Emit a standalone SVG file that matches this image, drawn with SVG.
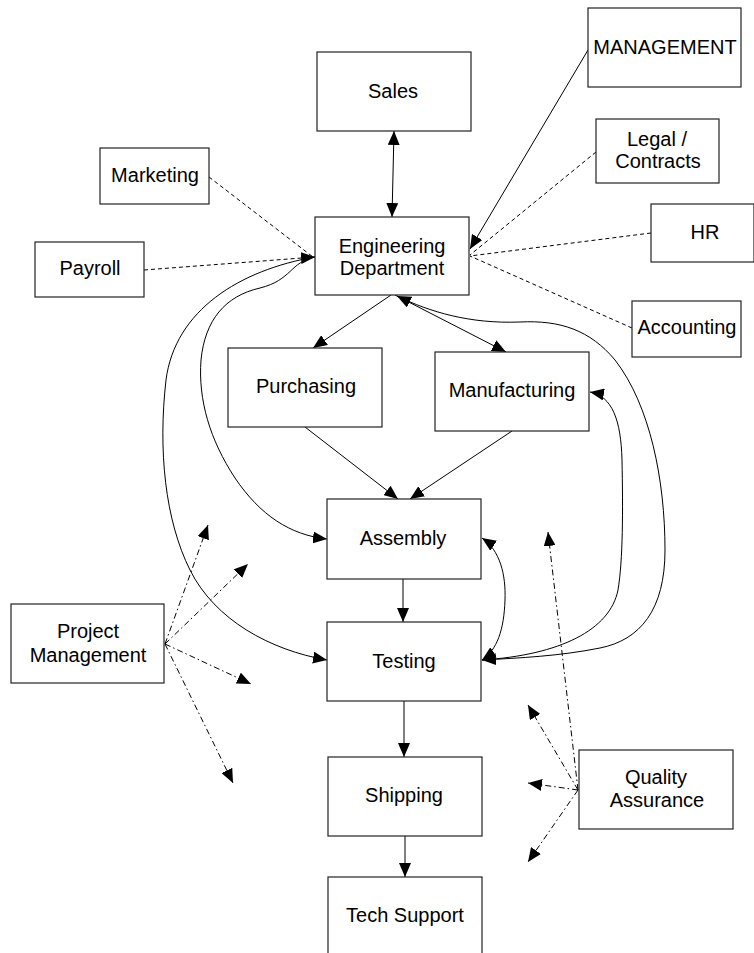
<svg xmlns="http://www.w3.org/2000/svg" width="754" height="953" viewBox="0 0 754 953">
<style>
.box{fill:#fff;stroke:#222;stroke-width:1.2}
.t{font-family:"Liberation Sans",Arial,sans-serif;font-size:20px;fill:#000;text-anchor:middle}
.c{fill:none;stroke:#000;stroke-width:1}
.d{stroke-dasharray:4 3}
.dd{stroke-dasharray:6 3 1.5 3}
</style>
<defs>
<marker id="ah" viewBox="0 0 14 12" refX="14" refY="6" markerWidth="14" markerHeight="12" markerUnits="userSpaceOnUse" orient="auto-start-reverse">
<path d="M0,0 L14,6 L0,12 z" fill="#000"/>
</marker>
</defs>
<g id="connectors">
<path class="c" d="M394 131 L392 217" marker-start="url(#ah)" marker-end="url(#ah)"/>
<path class="c" d="M588 50 L470 249" marker-end="url(#ah)"/>
<path class="c d" d="M596 152 L470 255"/>
<path class="c d" d="M651 233 L470 256"/>
<path class="c d" d="M632 328 L470 256"/>
<path class="c d" d="M209 177 L313 257"/>
<path class="c d" d="M144 270 L315 257" marker-end="url(#ah)"/>
<path class="c" d="M315 257 C240 270 175 310 166 380 C158 450 165 520 190 570 C215 620 270 650 327 660" marker-end="url(#ah)"/>
<path class="c" d="M315 257 C290 262 292 280 260 288 C225 296 205 320 201 360 C198 400 210 440 235 478 C260 515 290 535 327 539" marker-end="url(#ah)"/>
<path class="c" d="M391 295 L313 348" marker-end="url(#ah)"/>
<path class="c" d="M395 295 L506 352" marker-end="url(#ah)"/>
<path class="c" d="M482 660 C520 658 560 656 600 648 C640 640 665 610 665 550 C665 480 650 405 615 360 C590 330 560 320 520 322 C470 324 430 312 397 296" marker-end="url(#ah)"/>
<path class="c" d="M482 660 C560 655 610 630 618 590 C623 560 623 510 622 460 C621 420 612 396 590 392" marker-start="url(#ah)" marker-end="url(#ah)"/>
<path class="c" d="M482 660 C497 650 504 630 505 600 C506 575 500 550 482 538" marker-start="url(#ah)" marker-end="url(#ah)"/>
<path class="c" d="M305 427 L398 499" marker-end="url(#ah)"/>
<path class="c" d="M512 431 L410 499" marker-end="url(#ah)"/>
<path class="c" d="M403 579 L403 622" marker-end="url(#ah)"/>
<path class="c" d="M404 701 L404 757" marker-end="url(#ah)"/>
<path class="c" d="M405 836 L405 877" marker-end="url(#ah)"/>
<path class="c dd" d="M165 644 L208 525" marker-end="url(#ah)"/>
<path class="c dd" d="M165 644 L248 564" marker-end="url(#ah)"/>
<path class="c dd" d="M165 644 L251 684" marker-end="url(#ah)"/>
<path class="c dd" d="M165 644 L233 783" marker-end="url(#ah)"/>
<path class="c dd" d="M578 790 L548 532" marker-end="url(#ah)"/>
<path class="c dd" d="M578 790 L528 705" marker-end="url(#ah)"/>
<path class="c dd" d="M578 790 L528 783" marker-end="url(#ah)"/>
<path class="c dd" d="M578 790 L528 862" marker-end="url(#ah)"/>
</g>
<g id="sales"><rect class="box" x="317" y="52" width="154" height="79"/><text class="t" x="393" y="98">Sales</text></g>
<g id="management"><rect class="box" x="588" y="8" width="153" height="79"/><text class="t" x="665" y="54">MANAGEMENT</text></g>
<g id="legal"><rect class="box" x="596" y="119" width="123" height="64"/><text class="t" x="657" y="146">Legal /</text><text class="t" x="658" y="168">Contracts</text></g>
<g id="marketing"><rect class="box" x="100" y="148" width="109" height="56"/><text class="t" x="155" y="182">Marketing</text></g>
<g id="engineering"><rect class="box" x="315" y="217" width="154" height="78"/><text class="t" x="392" y="253">Engineering</text><text class="t" x="392" y="275">Department</text></g>
<g id="hr"><rect class="box" x="651" y="204" width="103" height="58"/><text class="t" x="705" y="239">HR</text></g>
<g id="payroll"><rect class="box" x="35" y="242" width="109" height="55"/><text class="t" x="90" y="275">Payroll</text></g>
<g id="accounting"><rect class="box" x="632" y="301" width="109" height="56"/><text class="t" x="687" y="334">Accounting</text></g>
<g id="purchasing"><rect class="box" x="228" y="348" width="154" height="79"/><text class="t" x="306" y="393">Purchasing</text></g>
<g id="manufacturing"><rect class="box" x="435" y="352" width="154" height="79"/><text class="t" x="512" y="397">Manufacturing</text></g>
<g id="assembly"><rect class="box" x="327" y="499" width="154" height="80"/><text class="t" x="403" y="545">Assembly</text></g>
<g id="testing"><rect class="box" x="327" y="622" width="154" height="79"/><text class="t" x="404" y="668">Testing</text></g>
<g id="project-management"><rect class="box" x="11" y="604" width="153" height="79"/><text class="t" x="88" y="638">Project</text><text class="t" x="88" y="662">Management</text></g>
<g id="shipping"><rect class="box" x="328" y="757" width="154" height="79"/><text class="t" x="404" y="802">Shipping</text></g>
<g id="quality-assurance"><rect class="box" x="579" y="750" width="154" height="79"/><text class="t" x="656" y="784">Quality</text><text class="t" x="657" y="807">Assurance</text></g>
<g id="tech-support"><rect class="box" x="328" y="877" width="154" height="90"/><text class="t" x="405" y="922">Tech Support</text></g>
</svg>
